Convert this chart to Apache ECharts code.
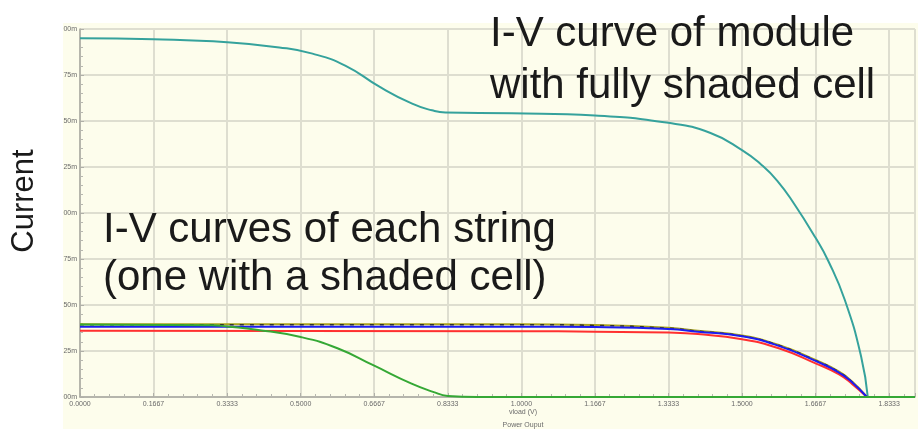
<!DOCTYPE html>
<html>
<head>
<meta charset="utf-8">
<script src="https://cdn.jsdelivr.net/npm/echarts@6/dist/echarts.min.js"></script>
<style>
  html, body { margin: 0; padding: 0; background: #fff; }
  #main { width: 918px; height: 429px; }
</style>
</head>
<body>
<div id="main"></div>
<script>
// module with fully shaded cell
var vModule = [0, 0.1667, 0.3333, 0.4516, 0.5268, 0.602, 0.6774, 0.7526, 0.7977, 0.828, 0.978, 1.1667, 1.3333, 1.4286, 1.5, 1.5426, 1.58, 1.618, 1.6667, 1.695, 1.733, 1.77, 1.785];
var iModule = [195, 194.4, 192.8, 190, 186.6, 180, 168.8, 159.4, 155.8, 154.6, 154.2, 153, 149, 143.5, 134.2, 126.5, 117.5, 105, 86.5, 74.2, 52.7, 21.9, 0];

// the strings
var vString = [0, 1.0, 1.1667, 1.3333, 1.4, 1.5, 1.5833, 1.6667, 1.72, 1.75, 1.783];
var iOlive = [39.5, 39.5, 39.1, 37.6, 36, 33.4, 28.3, 20.1, 13.8, 8.3, 0];
var iBlack = [39.3, 39.3, 38.9, 37.4, 35.8, 33.2, 28.1, 19.9, 13.6, 8.1, 0];
var iBlue = [38.2, 38.2, 38, 37, 35.5, 33, 27.8, 19.6, 13.3, 7.9, 0];
var iRed = [36, 35.8, 35.5, 35, 34.2, 31.4, 26.5, 18.3, 12.3, 7, 0];

// string with the shaded cell
var vShaded = [0, 0.3, 0.3333, 0.4, 0.5, 0.5833, 0.6667, 0.75, 0.8, 0.8333, 0.9, 1.892];
var iShaded = [39.4, 39, 38.3, 36.6, 32.6, 26.5, 17, 7.4, 2.8, 0.6, 0, 0];

function pairs(xs, ys) {
  var out = [];
  for (var i = 0; i < xs.length; i++) out.push([xs[i], ys[i]]);
  return out;
}

function line(name, xs, ys, color, width, dash) {
  return {
    name: name,
    type: 'line',
    data: pairs(xs, ys),
    smooth: true,
    showSymbol: false,
    animation: false,
    lineStyle: { color: color, width: width, type: dash || 'solid' }
  };
}

var chart = echarts.init(document.getElementById('main'));

var option = {
  animation: false,
  grid: { left: 80, right: 0, top: 29, bottom: 32, containLabel: false },
  xAxis: {
    type: 'value',
    min: 0,
    max: 1.892,
    interval: 1 / 6,
    axisLine: { lineStyle: { color: '#a8a8a0', width: 1.5 } },
    axisTick: { show: true, inside: true, length: 4, lineStyle: { color: '#b0b0a8' } },
    minorTick: { show: true, splitNumber: 5, length: 3, lineStyle: { color: '#b8b8b0' } },
    splitLine: { show: true, lineStyle: { color: '#deded0', width: 2 } },
    axisLabel: {
      fontSize: 7,
      color: '#6a6a6a',
      fontFamily: 'Liberation Sans',
      margin: 4,
      formatter: function (v) {
        var k = v * 6;
        if (Math.abs(k - Math.round(k)) > 0.001) return '';
        return v.toFixed(4);
      }
    }
  },
  yAxis: {
    type: 'value',
    min: 0,
    max: 200,
    interval: 25,
    axisLine: { show: true, lineStyle: { color: '#a8a8a0', width: 1.5 } },
    axisTick: { show: true, inside: true, length: 4, lineStyle: { color: '#b0b0a8' } },
    minorTick: { show: true, splitNumber: 5, length: 3, lineStyle: { color: '#b8b8b0' } },
    splitLine: { show: true, lineStyle: { color: '#deded0', width: 2 } },
    axisLabel: {
      fontSize: 7,
      color: '#6a6a6a',
      fontFamily: 'Liberation Sans',
      margin: 3,
      formatter: function (v) {
        var s = String(v);
        while (s.length < 2) s = '0' + s;
        return s.slice(-2) + 'm';
      }
    }
  },
  graphic: [
    { type: 'rect', z: -10, silent: true, shape: { x: 63, y: 23, width: 855, height: 406 }, style: { fill: '#fdfdec' } },
    { type: 'text', left: 490, top: 8, z: 100, style: { text: 'I-V curve of module\nwith fully shaded cell', font: '42px "Liberation Sans"', fill: '#1a1a1a', lineHeight: 52 } },
    { type: 'text', left: 103, top: 206, z: 100, style: { text: 'I-V curves of each string\n(one with a shaded cell)', font: '42px "Liberation Sans"', fill: '#1a1a1a', lineHeight: 48 } },
    { type: 'text', x: 24, y: 201, rotation: Math.PI / 2, z: 100, style: { text: 'Current', font: '31px "Liberation Sans"', fill: '#1a1a1a', align: 'center', verticalAlign: 'middle' } },
    { type: 'text', x: 523, y: 412, z: 100, style: { text: 'vload (V)', font: '7px "Liberation Sans"', fill: '#6a6a6a', align: 'center', verticalAlign: 'middle' } },
    { type: 'text', x: 523, y: 425, z: 100, style: { text: 'Power Ouput', font: '7px "Liberation Sans"', fill: '#6a6a6a', align: 'center', verticalAlign: 'middle' } }
  ],
  series: [
    line('module', vModule, iModule, '#35a29c', 2),
    line('string olive', vString, iOlive, '#a8a21c', 2),
    line('string black', vString, iBlack, '#333333', 1.5, [4, 6]),
    line('string red', vString, iRed, '#ff3030', 2),
    line('string blue', vString, iBlue, '#1c1cf0', 2),
    line('string shaded', vShaded, iShaded, '#35a835', 2)
  ]
};

chart.setOption(option);
</script>
</body>
</html>
